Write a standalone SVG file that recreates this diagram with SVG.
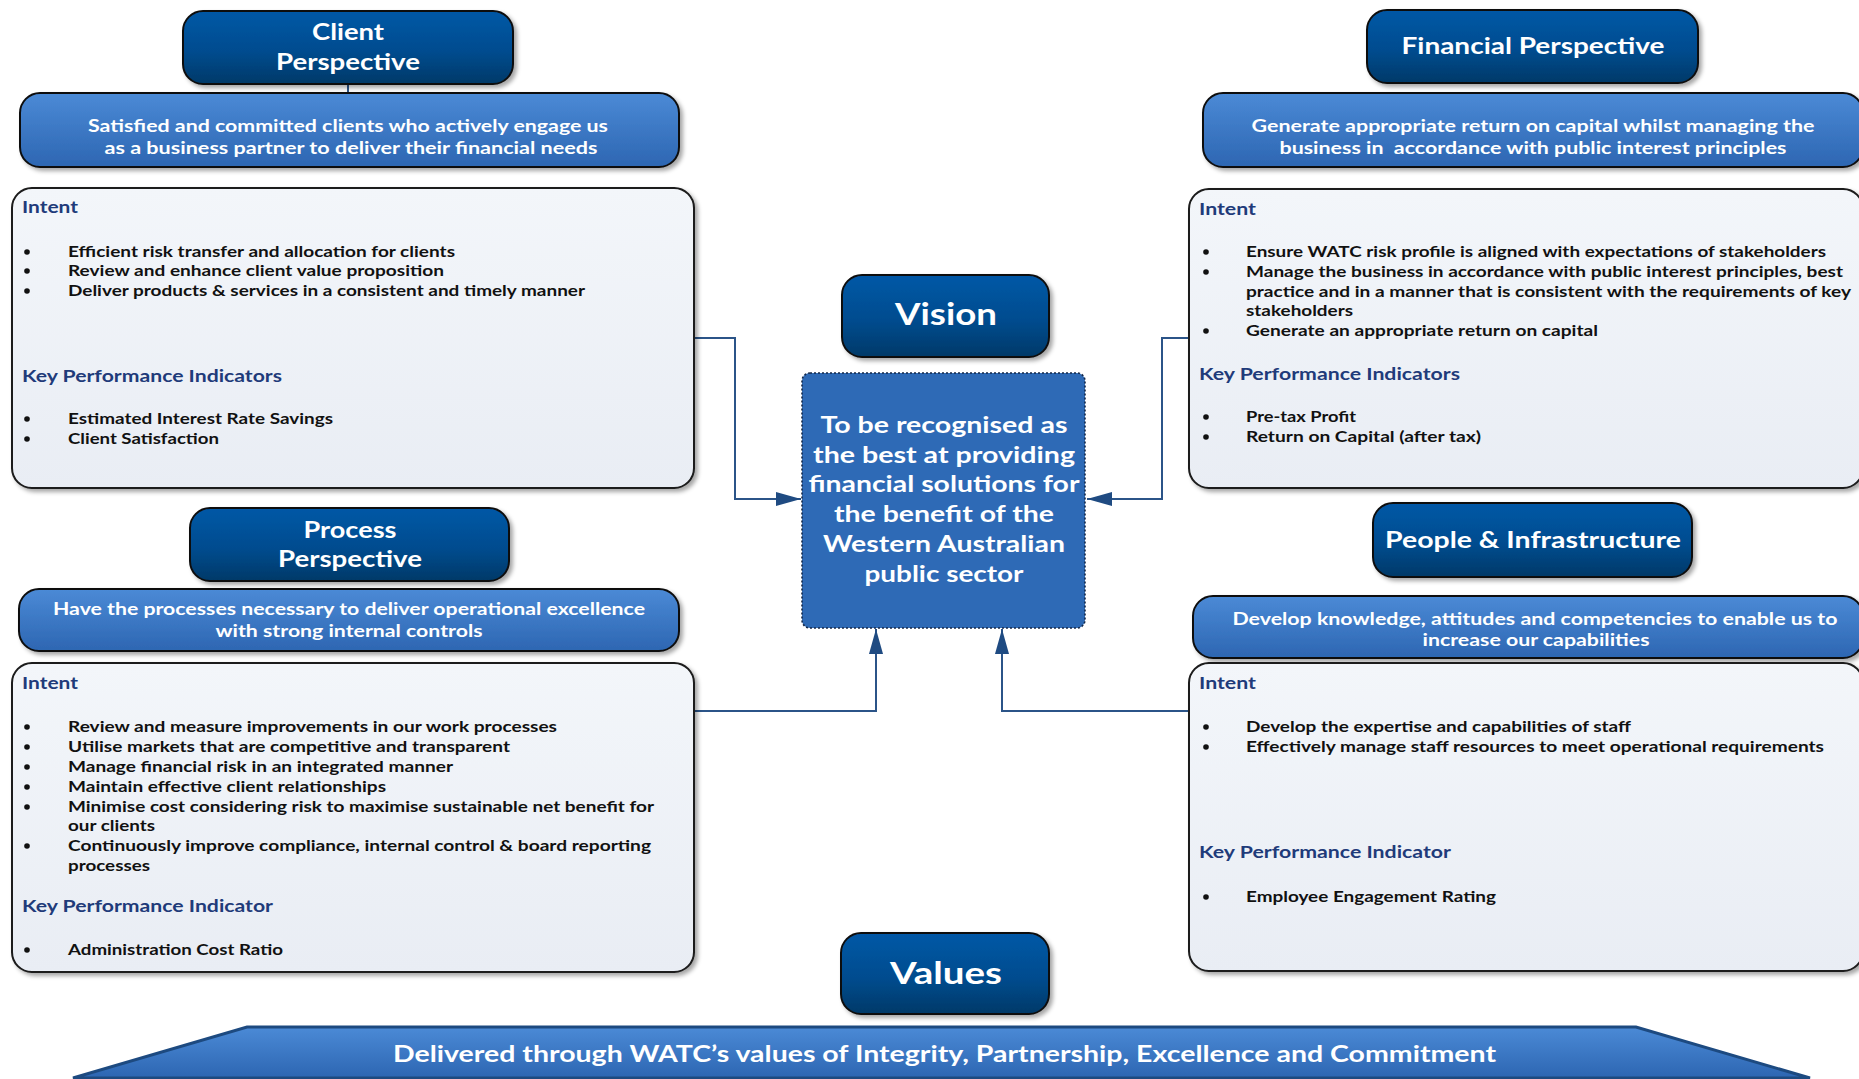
<svg xmlns="http://www.w3.org/2000/svg" width="1859" height="1079" viewBox="0 0 1859 1079">
<defs>
  <linearGradient id="gHdr" x1="0" y1="0" x2="0" y2="1">
    <stop offset="0" stop-color="#0658a6"/>
    <stop offset="0.55" stop-color="#024c8f"/>
    <stop offset="1" stop-color="#003968"/>
  </linearGradient>
  <linearGradient id="gSub" x1="0" y1="0" x2="0" y2="1">
    <stop offset="0" stop-color="#4b8ad6"/>
    <stop offset="1" stop-color="#2d66b2"/>
  </linearGradient>
  <linearGradient id="gBox" x1="0" y1="0" x2="0" y2="1">
    <stop offset="0" stop-color="#f3f6fa"/>
    <stop offset="1" stop-color="#e9edf4"/>
  </linearGradient>
  <filter id="sh" x="-5%" y="-5%" width="115%" height="125%">
    <feDropShadow dx="3" dy="3" stdDeviation="2" flood-color="#000" flood-opacity="0.35"/>
  </filter>
  <marker id="arr" markerUnits="userSpaceOnUse" markerWidth="26" markerHeight="16" refX="25" refY="7" orient="auto">
    <path d="M0,0 L25,7 L0,14 z" fill="#1f4b82"/>
  </marker>
  <style>
    .hdr{fill:url(#gHdr);stroke:#111;stroke-width:2;filter:url(#sh)}
    .sub{fill:url(#gSub);stroke:#111;stroke-width:2;filter:url(#sh)}
    .box{fill:url(#gBox);stroke:#1a1a1a;stroke-width:2;filter:url(#sh)}
    .vis{fill:#2e6ab6;stroke:#15294a;stroke-width:1.6;stroke-dasharray:2 2}
    .ban{fill:url(#gSub);stroke:#1d4a80;stroke-width:3}
    text{font-family:Lato,"Open Sans","Liberation Sans",sans-serif;font-weight:700}
    .th{fill:#fff;font-size:23px;text-anchor:middle}
    .tb{fill:#fff;font-size:30px;text-anchor:middle}
    .ts{fill:#fff;font-size:16.5px;text-anchor:middle}
    .tv{fill:#fff;font-size:22px;text-anchor:middle}
    .ih{fill:#1f3b7a;font-size:17px}
    .it{fill:#111;font-size:15.5px}
    .bul{fill:#111}
    .conn{fill:none;stroke:#2b5488;stroke-width:2}
  </style>
</defs>
<rect width="1859" height="1079" fill="#fff"/>

<g id="connectors">
  <line class="conn" x1="348" y1="84" x2="348" y2="93"/>
  <path class="conn" d="M694,338 H735 V499 H801" marker-end="url(#arr)"/>
  <path class="conn" d="M1189,338 H1162 V499 H1087" marker-end="url(#arr)"/>
  <path class="conn" d="M694,711 H876 V629" marker-end="url(#arr)"/>
  <path class="conn" d="M1189,711 H1002 V629" marker-end="url(#arr)"/>
</g>

<g id="client-header">
  <rect class="hdr" x="183" y="11" width="330" height="73" rx="20"/>
  <text class="th" x="348" y="40" textLength="72" lengthAdjust="spacingAndGlyphs">Client</text>
  <text class="th" x="348" y="70" textLength="144" lengthAdjust="spacingAndGlyphs">Perspective</text>
</g>
<g id="client-objective">
  <rect class="sub" x="20" y="93" width="659" height="74" rx="20"/>
  <text class="ts" x="348" y="132" textLength="520" lengthAdjust="spacingAndGlyphs">Satisfied and committed clients who actively engage us</text>
  <text class="ts" x="351" y="154" textLength="493" lengthAdjust="spacingAndGlyphs">as a business partner to deliver their financial needs</text>
</g>
<g id="client-intent">
  <rect class="box" x="12" y="188" width="682" height="300" rx="20"/>
  <text class="ih" x="22" y="213" textLength="56" lengthAdjust="spacingAndGlyphs">Intent</text>
  <circle class="bul" cx="27" cy="252" r="2.8"/>
  <circle class="bul" cx="27" cy="271" r="2.8"/>
  <circle class="bul" cx="27" cy="291" r="2.8"/>
  <text class="it" x="68" y="257" textLength="387" lengthAdjust="spacingAndGlyphs">Efficient risk transfer and allocation for clients</text>
  <text class="it" x="68" y="276" textLength="376" lengthAdjust="spacingAndGlyphs">Review and enhance client value proposition</text>
  <text class="it" x="68" y="296" textLength="517" lengthAdjust="spacingAndGlyphs">Deliver products &amp; services in a consistent and timely manner</text>
  <text class="ih" x="22" y="382" textLength="260" lengthAdjust="spacingAndGlyphs">Key Performance Indicators</text>
  <circle class="bul" cx="27" cy="419" r="2.8"/>
  <circle class="bul" cx="27" cy="439" r="2.8"/>
  <text class="it" x="68" y="424" textLength="265" lengthAdjust="spacingAndGlyphs">Estimated Interest Rate Savings</text>
  <text class="it" x="68" y="444" textLength="151" lengthAdjust="spacingAndGlyphs">Client Satisfaction</text>
</g>

<g id="financial-header">
  <rect class="hdr" x="1367" y="10" width="331" height="73" rx="20"/>
  <text class="th" x="1533" y="54" textLength="263" lengthAdjust="spacingAndGlyphs">Financial Perspective</text>
</g>
<g id="financial-objective">
  <rect class="sub" x="1203" y="93" width="660" height="74" rx="20"/>
  <text class="ts" x="1533" y="132" textLength="563" lengthAdjust="spacingAndGlyphs">Generate appropriate return on capital whilst managing the</text>
  <text class="ts" x="1533" y="154" textLength="507" lengthAdjust="spacingAndGlyphs" xml:space="preserve">business in  accordance with public interest principles</text>
</g>
<g id="financial-intent">
  <rect class="box" x="1189" y="189" width="674" height="299" rx="20"/>
  <text class="ih" x="1199" y="215" textLength="57" lengthAdjust="spacingAndGlyphs">Intent</text>
  <circle class="bul" cx="1206" cy="252" r="2.8"/>
  <circle class="bul" cx="1206" cy="272" r="2.8"/>
  <circle class="bul" cx="1206" cy="331" r="2.8"/>
  <text class="it" x="1246" y="257" textLength="580" lengthAdjust="spacingAndGlyphs">Ensure WATC risk profile is aligned with expectations of stakeholders</text>
  <text class="it" x="1246" y="277" textLength="597" lengthAdjust="spacingAndGlyphs">Manage the business in accordance with public interest principles, best</text>
  <text class="it" x="1246" y="297" textLength="605" lengthAdjust="spacingAndGlyphs">practice and in a manner that is consistent with the requirements of key</text>
  <text class="it" x="1246" y="316" textLength="107" lengthAdjust="spacingAndGlyphs">stakeholders</text>
  <text class="it" x="1246" y="336" textLength="352" lengthAdjust="spacingAndGlyphs">Generate an appropriate return on capital</text>
  <text class="ih" x="1199" y="380" textLength="261" lengthAdjust="spacingAndGlyphs">Key Performance Indicators</text>
  <circle class="bul" cx="1206" cy="417" r="2.8"/>
  <circle class="bul" cx="1206" cy="437" r="2.8"/>
  <text class="it" x="1246" y="422" textLength="110" lengthAdjust="spacingAndGlyphs">Pre-tax Profit</text>
  <text class="it" x="1246" y="442" textLength="235" lengthAdjust="spacingAndGlyphs">Return on Capital (after tax)</text>
</g>

<g id="vision-header">
  <rect class="hdr" x="842" y="275" width="207" height="82" rx="20"/>
  <text class="tb" x="946" y="325" textLength="102" lengthAdjust="spacingAndGlyphs">Vision</text>
</g>
<g id="vision">
  <rect class="vis" x="802" y="373" width="283" height="255" rx="8"/>
  <text class="tv" x="944" y="433" textLength="247" lengthAdjust="spacingAndGlyphs">To be recognised as</text>
  <text class="tv" x="944" y="463" textLength="262" lengthAdjust="spacingAndGlyphs">the best at providing</text>
  <text class="tv" x="944" y="492" textLength="271" lengthAdjust="spacingAndGlyphs">financial solutions for</text>
  <text class="tv" x="944" y="522" textLength="220" lengthAdjust="spacingAndGlyphs">the benefit of the</text>
  <text class="tv" x="944" y="552" textLength="242" lengthAdjust="spacingAndGlyphs">Western Australian</text>
  <text class="tv" x="944" y="582" textLength="159" lengthAdjust="spacingAndGlyphs">public sector</text>
</g>

<g id="process-header">
  <rect class="hdr" x="190" y="508" width="319" height="73" rx="20"/>
  <text class="th" x="350" y="538" textLength="93" lengthAdjust="spacingAndGlyphs">Process</text>
  <text class="th" x="350" y="567" textLength="144" lengthAdjust="spacingAndGlyphs">Perspective</text>
</g>
<g id="process-objective">
  <rect class="sub" x="19" y="589" width="660" height="62" rx="20"/>
  <text class="ts" x="349" y="615" textLength="592" lengthAdjust="spacingAndGlyphs">Have the processes necessary to deliver operational excellence</text>
  <text class="ts" x="349" y="637" textLength="267" lengthAdjust="spacingAndGlyphs">with strong internal controls</text>
</g>
<g id="process-intent">
  <rect class="box" x="12" y="663" width="682" height="309" rx="20"/>
  <text class="ih" x="22" y="689" textLength="56" lengthAdjust="spacingAndGlyphs">Intent</text>
  <circle class="bul" cx="27" cy="727" r="2.8"/>
  <circle class="bul" cx="27" cy="747" r="2.8"/>
  <circle class="bul" cx="27" cy="767" r="2.8"/>
  <circle class="bul" cx="27" cy="787" r="2.8"/>
  <circle class="bul" cx="27" cy="807" r="2.8"/>
  <circle class="bul" cx="27" cy="846" r="2.8"/>
  <text class="it" x="68" y="732" textLength="489" lengthAdjust="spacingAndGlyphs">Review and measure improvements in our work processes</text>
  <text class="it" x="68" y="752" textLength="442" lengthAdjust="spacingAndGlyphs">Utilise markets that are competitive and transparent</text>
  <text class="it" x="68" y="772" textLength="385" lengthAdjust="spacingAndGlyphs">Manage financial risk in an integrated manner</text>
  <text class="it" x="68" y="792" textLength="318" lengthAdjust="spacingAndGlyphs">Maintain effective client relationships</text>
  <text class="it" x="68" y="812" textLength="586" lengthAdjust="spacingAndGlyphs">Minimise cost considering risk to maximise sustainable net benefit for</text>
  <text class="it" x="68" y="831" textLength="87" lengthAdjust="spacingAndGlyphs">our clients</text>
  <text class="it" x="68" y="851" textLength="583" lengthAdjust="spacingAndGlyphs">Continuously improve compliance, internal control &amp; board reporting</text>
  <text class="it" x="68" y="871" textLength="82" lengthAdjust="spacingAndGlyphs">processes</text>
  <text class="ih" x="22" y="912" textLength="251" lengthAdjust="spacingAndGlyphs">Key Performance Indicator</text>
  <circle class="bul" cx="27" cy="950" r="2.8"/>
  <text class="it" x="68" y="955" textLength="215" lengthAdjust="spacingAndGlyphs">Administration Cost Ratio</text>
</g>

<g id="people-header">
  <rect class="hdr" x="1373" y="503" width="319" height="74" rx="20"/>
  <text class="th" x="1533" y="548" textLength="296" lengthAdjust="spacingAndGlyphs">People &amp; Infrastructure</text>
</g>
<g id="people-objective">
  <rect class="sub" x="1193" y="596" width="670" height="62" rx="20"/>
  <text class="ts" x="1535" y="625" textLength="605" lengthAdjust="spacingAndGlyphs">Develop knowledge, attitudes and competencies to enable us to</text>
  <text class="ts" x="1536" y="646" textLength="227" lengthAdjust="spacingAndGlyphs">increase our capabilities</text>
</g>
<g id="people-intent">
  <rect class="box" x="1189" y="663" width="674" height="308" rx="20"/>
  <text class="ih" x="1199" y="689" textLength="57" lengthAdjust="spacingAndGlyphs">Intent</text>
  <circle class="bul" cx="1206" cy="727" r="2.8"/>
  <circle class="bul" cx="1206" cy="747" r="2.8"/>
  <text class="it" x="1246" y="732" textLength="385" lengthAdjust="spacingAndGlyphs">Develop the expertise and capabilities of staff</text>
  <text class="it" x="1246" y="752" textLength="578" lengthAdjust="spacingAndGlyphs">Effectively manage staff resources to meet operational requirements</text>
  <text class="ih" x="1199" y="858" textLength="252" lengthAdjust="spacingAndGlyphs">Key Performance Indicator</text>
  <circle class="bul" cx="1206" cy="897" r="2.8"/>
  <text class="it" x="1246" y="902" textLength="250" lengthAdjust="spacingAndGlyphs">Employee Engagement Rating</text>
</g>

<g id="values-header">
  <rect class="hdr" x="841" y="933" width="208" height="81" rx="20"/>
  <text class="tb" x="946" y="984" textLength="112" lengthAdjust="spacingAndGlyphs">Values</text>
</g>
<g id="values-banner">
  <polygon class="ban" points="247,1027 1636,1027 1810,1078 73,1078"/>
  <text class="tv" x="944.5" y="1062" textLength="1103" lengthAdjust="spacingAndGlyphs">Delivered through WATC’s values of Integrity, Partnership, Excellence and Commitment</text>
</g>
</svg>
